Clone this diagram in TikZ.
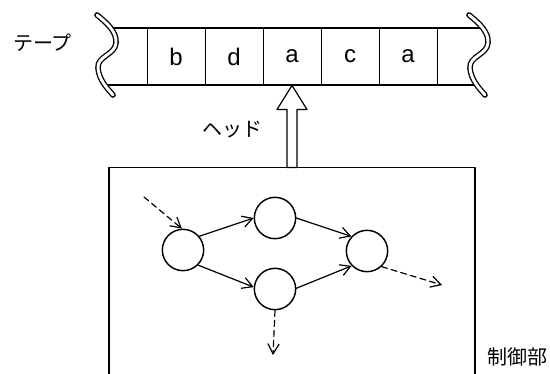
\documentclass[tikz,border=0pt]{standalone}
\usepackage{fontspec}
\setmainfont{Liberation Sans}
\newfontfamily\jpfont{Noto Sans CJK JP}
\usetikzlibrary{arrows.meta}

\tikzset{
  cell/.style={draw, line width=0.7pt, minimum width=43.5pt, minimum height=42.75pt, inner sep=0pt, font=\fontsize{18}{18}\selectfont},
  state/.style={circle, draw, line width=1.1pt, minimum size=31pt, inner sep=0pt},
  trans/.style={line width=0.9pt, -{Straight Barb[length=7.5pt,width=8.5pt]}},
  jump/.style={trans, dash pattern=on 4.5pt off 3pt},
  jlabel/.style={font=\jpfont\fontsize{15}{15}\selectfont}
}

\begin{document}
\begin{tikzpicture}[line cap=round,line join=round,x=0.75pt,y=-0.75pt]
          \useasboundingbox (0,0) rectangle (550,374);

          \foreach \l [count=\i] in {b,d,a,c,a}
            \node[cell] (c\i) at (118+58*\i,56.5) {\l};
          \draw[line width=1.1pt] (108,28) -- (480,28);
          \draw[line width=1.1pt] (104,85) -- (476,85);
          \foreach \dx in {0,372}
            \draw[shift={(\dx,0)}, line width=1pt, double=white, double distance=2.2pt]
              (97,15) .. controls (107,23) and (117,32) .. (116,43)
              .. controls (115,55) and (97,56) .. (98,68)
              .. controls (99,80) and (107,88) .. (113,95);
          \node[jlabel] (tapelabel) at (42.5,43) {テープ};

          \node[draw, line width=0.9pt, minimum width=274.5pt, minimum height=190pt, anchor=north] (ctrl) at (292,167) {};
          \node[jlabel] (ctrllabel) at (517,357) {制御部};

          \draw[line width=0.9pt, fill=white] (c3.south) -- ++(15,24) -- ++(-10,0) -- ++(0,58)
            -- ++(-10,0) -- ++(0,-58) -- ++(-10,0) -- cycle;
          \node[jlabel] (headlabel) at (232,130) {ヘッド};

          \node[state] (q1) at (183,250) {};
          \node[state] (q2) at (275,218) {};
          \node[state] (q3) at (275,289) {};
          \node[state] (q4) at (367,251) {};
          \coordinate (src) at (144,197);
          \coordinate (sink) at (442,285);
          \coordinate (exit) at (273,355);

          \draw[jump] (src) -- (q1.93);
          \draw[trans] (q1.40) -- (q2.180);
          \draw[trans] (q1.-45) -- (q3.175);
          \draw[trans] (q2.0) -- (q4.137);
          \draw[trans] (q3.2) -- (q4.-136);
          \draw[jump] (q4.-47) -- (sink);
          \draw[jump] (q3.-90) -- (exit);

        \end{tikzpicture}
\end{document}
